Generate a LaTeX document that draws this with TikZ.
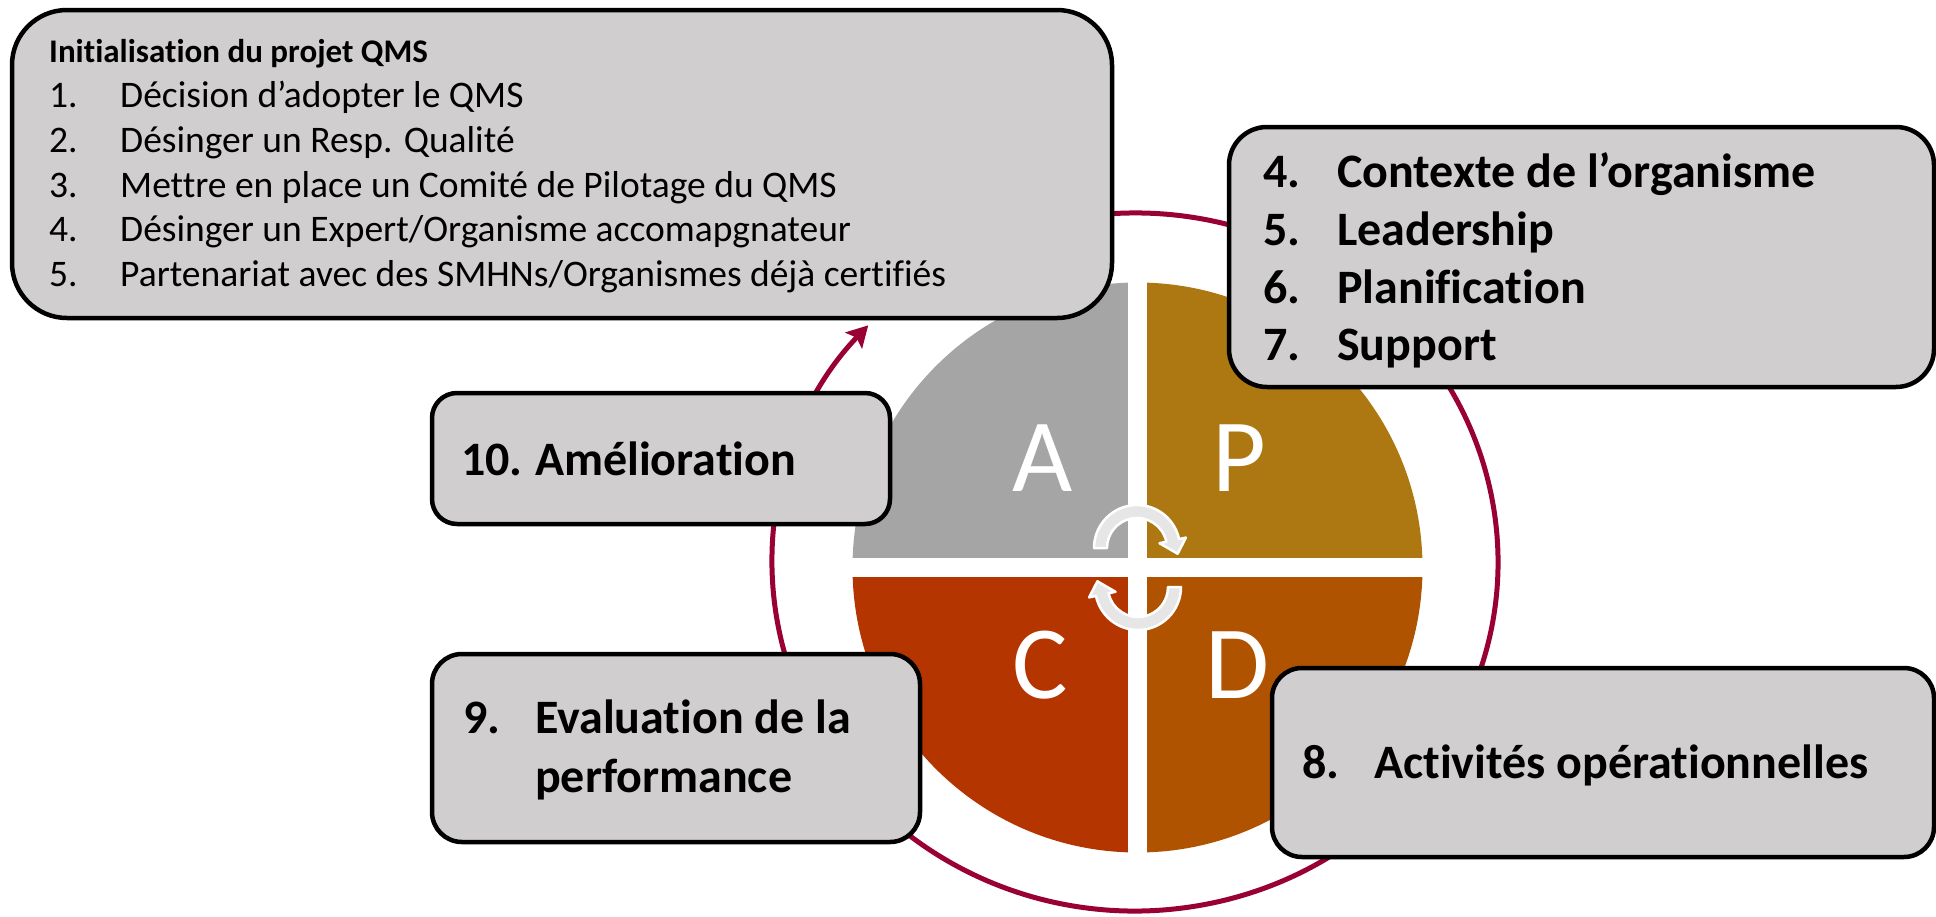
\documentclass[tikz,border=0pt]{standalone}
\usepackage{fontspec}
\setmainfont[Ligatures=NoCommon]{Carlito}
\usetikzlibrary{calc,arrows.meta}
\definecolor{boxfill}{HTML}{D0CECE}
\definecolor{ringred}{HTML}{990033}
\definecolor{qA}{HTML}{A5A5A5}
\definecolor{qP}{HTML}{AD7811}
\definecolor{qD}{HTML}{B05300}
\definecolor{qC}{HTML}{B43500}
\definecolor{cycgrey}{HTML}{E6E6E6}
\newcommand\numitem[3]{\makebox[#1][l]{#2}#3}
\begin{document}
\begin{tikzpicture}[x=1pt,y=-1pt,
  qbox/.style={draw=black, fill=boxfill, line width=4.5pt, inner sep=0pt},
  bigtxt/.style={anchor=base west, inner sep=0pt, font=\fontsize{48}{58}\selectfont\bfseries},
  headtxt/.style={anchor=base west, inner sep=0pt, font=\fontsize{33}{44}\selectfont\bfseries},
  listtxt/.style={anchor=base west, inner sep=0pt, font=\fontsize{37.5}{44}\selectfont},
  pdca/.style={anchor=base, inner sep=0pt, text=white, font=\fontsize{104}{104}\selectfont},
  cyc/.style={fill=cycgrey, draw=white, line width=2.5pt, line join=round},
  ring/.style={draw=ringred, line width=5pt}]
\useasboundingbox (0,0) rectangle (1936,916);
% pie
\coordinate (pc) at (1137.5,567.5);
\fill[qA] (pc) -- ($(pc)+(180:285)$) arc[start angle=180, end angle=270, radius=285] -- cycle;
\fill[qP] (pc) -- ($(pc)+(270:285)$) arc[start angle=270, end angle=360, radius=285] -- cycle;
\fill[qD] (pc) -- ($(pc)+(0:285)$) arc[start angle=0, end angle=90, radius=285] -- cycle;
\fill[qC] (pc) -- ($(pc)+(90:285)$) arc[start angle=90, end angle=180, radius=285] -- cycle;
\fill[white] (1128,270) rectangle (1147,865);
\fill[white] (840,558) rectangle (1435,577);
\node[pdca] (la) at (1043,491) {A};
\node[pdca] (lp) at (1239,491) {P};
\node[pdca] (lc) at (1040,698) {C};
\node[pdca] (ld) at (1237,698) {D};
% centre cycle arrows
\coordinate (u) at (1137,548);
\coordinate (l) at (1138,587);
\path[cyc] ($(u)+(180:30)$) -- ($(u)+(180:43)$) arc[start angle=180, end angle=348, radius=43]
  -- ($(u)+(348:50)$) -- ($(u)+(368:41)$) -- ($(u)+(348:23)$) -- ($(u)+(348:30)$)
  arc[start angle=348, end angle=180, radius=30] -- cycle;
\path[cyc] ($(l)+(0:30)$) -- ($(l)+(0:43)$) arc[start angle=0, end angle=168, radius=43]
  -- ($(l)+(168:50)$) -- ($(l)+(188:41)$) -- ($(l)+(168:23)$) -- ($(l)+(168:30)$)
  arc[start angle=168, end angle=0, radius=30] -- cycle;
% ring with arrow
\coordinate (rc) at (1135,562);
\coordinate (rstart) at ($(rc)+(-100:363 and 349)$);
\draw[ring, -{Stealth[length=21pt, width=23pt, inset=4pt]}] (rstart)
  arc[start angle=-100, end angle=222.7, x radius=363, y radius=349];
% boxes
\node[qbox, rounded corners=55pt, minimum width=1100pt, minimum height=308pt] (init) at (562,164) {};
\node[qbox, rounded corners=38pt, minimum width=705pt, minimum height=260pt] (plan) at (1581.5,257) {};
\node[qbox, rounded corners=25pt, minimum width=458pt, minimum height=131pt] (amel) at (661,458.5) {};
\node[qbox, rounded corners=30pt, minimum width=488pt, minimum height=188pt] (eval) at (676,748) {};
\node[qbox, rounded corners=30pt, minimum width=662pt, minimum height=189pt] (oper) at (1603,762.5) {};
% texts
\node[headtxt] (t0) at (49,62) {Initialisation du projet QMS};
\node[listtxt] (t1) at (49,107) {\numitem{71pt}{1.}{Décision d’adopter le QMS}};
\node[listtxt] (t2) at (49,152) {\numitem{71pt}{2.}{Désinger un Resp. Qualité}};
\node[listtxt] (t3) at (49,197) {\numitem{71pt}{3.}{Mettre en place un Comité de Pilotage du QMS}};
\node[listtxt] (t4) at (49,241) {\numitem{71pt}{4.}{Désinger un Expert/Organisme accomapgnateur}};
\node[listtxt] (t5) at (49,286) {\numitem{71pt}{5.}{Partenariat avec des SMHNs/Organismes déjà certifiés}};
\node[bigtxt] (p4) at (1263,187) {\numitem{74pt}{4.}{Contexte de l’organisme}};
\node[bigtxt] (p5) at (1263,245) {\numitem{74pt}{5.}{Leadership}};
\node[bigtxt] (p6) at (1263,303) {\numitem{74pt}{6.}{Planification}};
\node[bigtxt] (p7) at (1263,360) {\numitem{74pt}{7.}{Support}};
\node[bigtxt] (a10) at (461,475) {10.\hspace{-2pt} Amélioration};
\node[bigtxt] (e9) at (463,733) {\numitem{72pt}{9.}{Evaluation de la}};
\node[bigtxt] (e9b) at (535,792) {performance};
\node[bigtxt] (o8) at (1302,778) {\numitem{72pt}{8.}{Activités opérationnelles}};
\end{tikzpicture}
\end{document}
